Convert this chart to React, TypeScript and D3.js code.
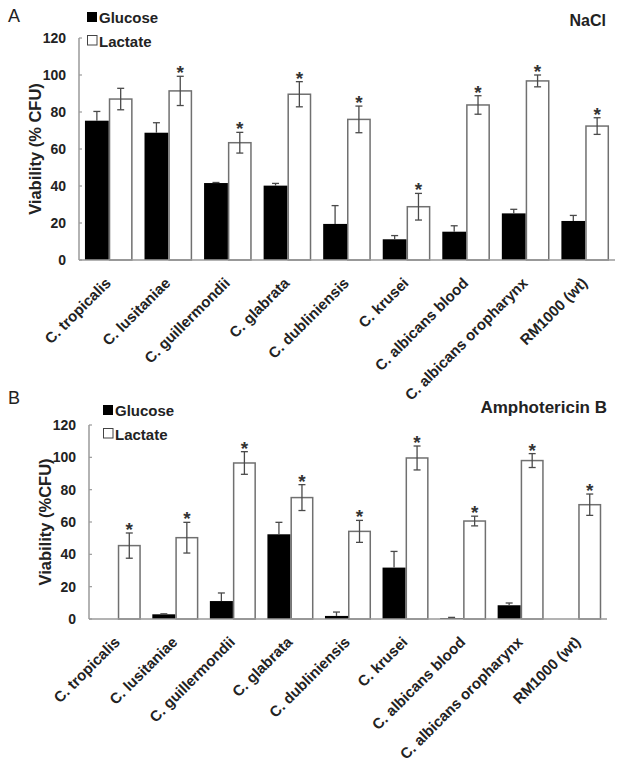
import React from 'react';
import * as d3 from 'd3';

// categories shared by both panels
const categories = [
  'C. tropicalis',
  'C. lusitaniae',
  'C. guillermondii',
  'C. glabrata',
  'C. dubliniensis',
  'C. krusei',
  'C. albicans blood',
  'C. albicans oropharynx',
  'RM1000 (wt)',
];

const yTicks = [0, 20, 40, 60, 80, 100, 120];

// Panel A - NaCl
const naclGlucose = [75.3, 68.8, 41.6, 40.2, 19.5, 11.2, 15.3, 25.2, 21.1];
const naclGlucoseErr = [5, 5.4, 0.3, 1.2, 9.9, 2, 3.2, 2.2, 3];
const naclLactate = [87, 91.4, 63.4, 89.6, 76, 28.8, 83.8, 96.8, 72.4];
const naclLactateErr = [5.8, 7.9, 5.6, 6.8, 7.2, 7.2, 5, 3.2, 4.5];
const naclStars = [false, true, true, true, true, true, true, true, true];

// Panel B - Amphotericin B
const amphoGlucose = [0, 2.9, 11.1, 52.4, 1.9, 31.8, 0.5, 8.5, 0];
const amphoGlucoseErr = [0, 0.3, 5, 7.4, 2.4, 10, 0.5, 1.4, 0];
const amphoLactate = [45.4, 50.3, 96.5, 75.1, 54.2, 99.6, 60.6, 98, 70.7];
const amphoLactateErr = [7.8, 9.5, 7, 8, 6.8, 7.4, 3, 4.3, 6.6];
const amphoStars = [true, true, true, true, true, true, true, true, true];

const FONT = 'Liberation Sans, Arial, sans-serif';
const AXIS = '#9a9a9a';
const ERR = '#4a4a4a';

function Panel({ letter, title, titleX, titleSize, yTitle, glucose, glucoseErr, lactate, lactateErr, stars, left, right, top, bottom, letterY, legendX, legendY }) {
  const y = d3.scaleLinear().domain([0, 120]).range([bottom, top]);
  const x = d3.scaleBand().domain(categories).range([left, right]).paddingInner(0.2).paddingOuter(0.1);
  const sub = d3.scaleBand().domain(['g', 'l']).range([0, x.bandwidth()]);
  const cap = 3.5;

  return (
    <g fontFamily={FONT}>
      <text x={8} y={letterY} fontSize={18} fill="#222">{letter}</text>
      <text x={titleX} y={top - 12} fontSize={titleSize} fontWeight="bold" textAnchor="end" fill="#222">{title}</text>

      {/* legend */}
      <rect x={legendX} y={legendY - 5} width={10} height={10} fill="#000" />
      <text x={legendX + 12} y={legendY + 5.5} fontSize={15} fontWeight="bold" fill="#222">Glucose</text>
      <rect x={legendX + 0.5} y={legendY + 18.5} width={9.5} height={9.5} fill="#fff" stroke="#444" strokeWidth={1} />
      <text x={legendX + 12} y={legendY + 29.5} fontSize={15} fontWeight="bold" fill="#222">Lactate</text>

      {/* y axis */}
      <line x1={left} x2={left} y1={y(0)} y2={y(120)} stroke={AXIS} strokeWidth={1.5} />
      {yTicks.map((t) => (
        <g key={t}>
          <line x1={left} x2={left + 3} y1={y(t)} y2={y(t)} stroke={AXIS} strokeWidth={1.2} />
          <text x={left - 13} y={y(t) + 5} fontSize={14} fontWeight="bold" textAnchor="end" fill="#222">{t}</text>
        </g>
      ))}
      <text
        transform={`translate(${left - 38}, ${(y(0) + y(120)) / 2}) rotate(-90)`}
        fontSize={16.5}
        fontWeight="bold"
        textAnchor="middle"
        fill="#222"
      >{yTitle}</text>

      {/* bars */}
      {categories.map((c, i) => {
        const x0 = x(c);
        const gx = x0 + sub('g');
        const lx = x0 + sub('l');
        const w = sub.bandwidth();
        const gTop = y(glucose[i]);
        const lTop = y(lactate[i]);
        const gErrTop = y(glucose[i] + glucoseErr[i]);
        const lErrTop = y(lactate[i] + lactateErr[i]);
        const lErrBot = y(lactate[i] - lactateErr[i]);
        return (
          <g key={c}>
            <rect x={gx} y={gTop} width={w} height={y(0) - gTop} fill="#000" />
            {glucoseErr[i] > 0 && (
              <g stroke={ERR} strokeWidth={1.3}>
                <line x1={gx + w / 2} x2={gx + w / 2} y1={gTop} y2={gErrTop} />
                <line x1={gx + w / 2 - cap} x2={gx + w / 2 + cap} y1={gErrTop} y2={gErrTop} />
              </g>
            )}
            <rect x={lx + 0.75} y={lTop} width={w - 1.5} height={y(0) - lTop} fill="#fff" stroke="#707070" strokeWidth={1.5} />
            <g stroke={ERR} strokeWidth={1.3}>
              <line x1={lx + w / 2} x2={lx + w / 2} y1={lErrBot} y2={lErrTop} />
              <line x1={lx + w / 2 - cap} x2={lx + w / 2 + cap} y1={lErrTop} y2={lErrTop} />
              <line x1={lx + w / 2 - cap} x2={lx + w / 2 + cap} y1={lErrBot} y2={lErrBot} />
            </g>
            {stars[i] && (
              <text x={lx + w / 2} y={lErrTop + 3} fontSize={19} fontWeight="bold" textAnchor="middle" fill="#333">*</text>
            )}
            <text
              transform={`translate(${x0 + x.bandwidth() / 2 + 3}, ${y(0) + 24}) rotate(-45)`}
              fontSize={15}
              fontWeight="bold"
              textAnchor="end"
              fill="#222"
            >{c}</text>
          </g>
        );
      })}

      {/* x axis */}
      <line x1={left} x2={right} y1={y(0)} y2={y(0)} stroke={AXIS} strokeWidth={1.5} />
    </g>
  );
}

export default function App() {
  return (
    <div style={{ position: 'absolute', left: 0, top: 0 }}>
      <svg width={622} height={761} style={{ display: 'block', background: '#fff' }}>
        <Panel
          letter="A"
          title="NaCl"
          titleX={606}
          titleSize={16}
          yTitle="Viability (% CFU)"
          glucose={naclGlucose}
          glucoseErr={naclGlucoseErr}
          lactate={naclLactate}
          lactateErr={naclLactateErr}
          stars={naclStars}
          left={79}
          right={615}
          top={38}
          bottom={260}
          letterY={22}
          legendX={87}
          legendY={17}
        />
        <Panel
          letter="B"
          title="Amphotericin B"
          titleX={607}
          titleSize={17}
          yTitle="Viability (%CFU)"
          glucose={amphoGlucose}
          glucoseErr={amphoGlucoseErr}
          lactate={amphoLactate}
          lactateErr={amphoLactateErr}
          stars={amphoStars}
          left={89}
          right={607}
          top={425}
          bottom={619}
          letterY={404}
          legendX={103}
          legendY={410}
        />
      </svg>
    </div>
  );
}
